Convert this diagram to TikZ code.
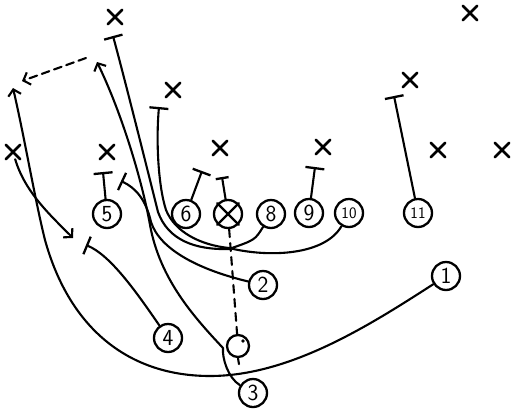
\documentclass[tikz,border=0pt]{standalone}
\usepackage{fontspec}
\usetikzlibrary{arrows.meta,shapes.misc}
\begin{document}
\begin{tikzpicture}[x=1pt,y=-1pt,line width=2.1pt,line cap=round,
 >={Straight Barb[length=6pt,width=13pt]},
 man/.style={draw,circle,line width=2.3pt,minimum size=28pt,inner sep=0pt,
   font=\sffamily\fontsize{23}{23}\selectfont},
 small/.style={font=\sffamily\fontsize{16}{16}\selectfont},
 defx/.style={draw,cross out,line width=2.5pt,minimum size=12pt,inner sep=0pt},
 blk/.style={-{Bar[width=19pt,line width=2.3pt]}}]
\useasboundingbox (0,0) rectangle (517,413);
% offense
\node[man] (p5) at (107,214) {5};
\node[man] (p6) at (186,214) {6};
\node[man] (c) at (228,214) {};
\draw[line width=2.3pt] (c.north west)--(c.south east) (c.north east)--(c.south west);
\node[man] (p8) at (271,214) {8};
\node[man] (p9) at (309,213) {9};
\node[man,small] (p10) at (349,213) {10};
\node[man,small] (p11) at (418,213) {11};
\node[man] (p1) at (446,276) {1};
\node[man] (p2) at (263,285) {2};
\node[man] (p4) at (168,338) {4};
\node[man] (p3) at (253,393) {3};
\node[draw,circle,line width=2.3pt,minimum size=22pt,inner sep=0pt] (qb) at (238,346) {};
\node[circle,fill,inner sep=1.3pt] (ball) at (243,341) {};
% defense
\foreach \n/\x/\y in {d1/115/17,d2/470/13,d3/410/80,d4/173/90,d5/13/152,
  d6/107/152,d7/220/148,d8/323/147,d9/438/150,d10/502/150}
  \node[defx] (\n) at (\x,\y) {};
% ends of routes and blocks
\coordinate (b5) at (103,172);
\coordinate (b6) at (202,171);
\coordinate (bc) at (222,177);
\coordinate (b9) at (315,167);
\coordinate (b11) at (394,96);
\coordinate (b4) at (86,245);
\coordinate (b2) at (121,181);
\coordinate (b8) at (113,36);
\coordinate (b10) at (159,107);
\coordinate (a1) at (13,88);
\coordinate (a2) at (73,238);
\coordinate (a3) at (22,81);
\coordinate (a4) at (97,62);
\coordinate (d0) at (86,58);
% blocks
\draw[blk] (p5) -- (b5);
\draw[blk] (p6) -- (b6);
\draw[-{Bar[width=13pt,line width=2.3pt]}] (c) -- (bc);
\draw[blk] (p9) -- (b9);
\draw[blk] (p11) -- (b11);
\draw[blk] (p4) .. controls (135,290) and (110,255) .. (b4);
\draw[blk] (p2) .. controls (200,270) and (160,250) .. (151,222)
  .. controls (146,200) and (136,188) .. (b2);
\draw[blk] (p8) .. controls (255,240) .. (229,249)
  .. controls (195,250) and (168,240) .. (158,212)
  .. controls (150,180) and (125,80) .. (b8);
\draw[blk] (p10) .. controls (325,255) and (270,258) .. (229,248)
  .. controls (200,245) and (175,232) .. (166,210)
  .. controls (158,185) and (156,140) .. (b10);
% routes
\draw[dash pattern=on 8pt off 6pt] (c) -- (qb);
\draw (qb.south) -- ++(1,6);
\draw[->] (p3) .. controls (228,378) and (222,358) .. (223,348)
  .. controls (195,318) and (160,280) .. (150,225)
  .. controls (144,190) and (125,120) .. (a4);
\draw[->] (p1) .. controls (370,325) and (290,376) .. (210,376)
  .. controls (130,376) and (70,330) .. (45,240)
  .. controls (35,200) and (25,140) .. (a1);
\draw[->] (d5) .. controls (25,192) and (50,215) .. (a2);
\draw[->,dash pattern=on 8pt off 5pt] (d0) -- (a3);
\end{tikzpicture}
\end{document}
